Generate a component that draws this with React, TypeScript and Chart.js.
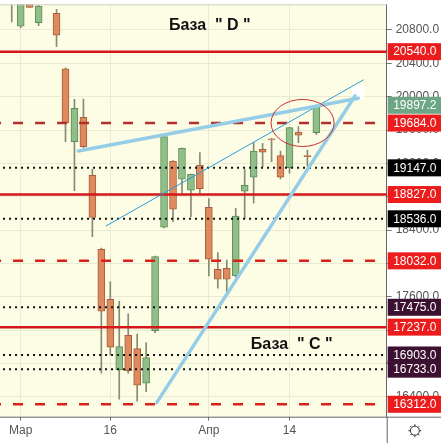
import React, { useEffect, useRef } from "react";
import { Chart, registerables } from "chart.js";
Chart.register(...registerables);

// Trading-session slots (slot 4 has no visible candle)
const slots = [0, 1, 2, 3, 5, 6, 7, 8, 9, 10, 11, 12, 13, 14, 15, 16, 17, 18, 19, 20, 21, 22, 23, 24, 25, 26, 27, 28, 29, 30, 31, 32, 33, 34];
const opens = [21180, 20845, 21140, 20888, 21000, 20333, 19461, 19753, 19058, 18171, 17571, 16724, 17140, 16979, 16564, 17195, 18435, 19229, 19010, 18878, 19178, 18674, 17931, 17943, 17851, 18866, 19034, 19370, 19495, 19293, 19149, 19577, 19295, 19569];
const highs = [21300, 21200, 21160, 21095, 21048, 20345, 19969, 19973, 19130, 18186, 17779, 17547, 17395, 17155, 17051, 18090, 19529, 19235, 19385, 19073, 19329, 18777, 18130, 18042, 18662, 19128, 19449, 19442, 19500, 19349, 19634, 19641, 19361, 19900];
const lows = [20896, 20824, 21072, 20852, 20600, 19461, 18873, 19385, 18322, 16684, 16904, 16372, 16684, 16348, 16463, 17170, 18426, 18502, 18842, 18562, 18842, 17851, 17703, 17647, 17835, 18542, 18722, 19161, 19221, 19014, 19082, 19449, 19170, 19545];
const closes = [21250, 21150, 21072, 21088, 20737, 19689, 19861, 19401, 18552, 17427, 16996, 17003, 16715, 16540, 16871, 18082, 19521, 18650, 19382, 19070, 18897, 18051, 17811, 17811, 18570, 18938, 19349, 19334, 19482, 19034, 19629, 19538, 19282, 19897];

const xTickSlots = [1, 11, 22, 31];
const xTickLabels = ["Мар", "16", "Апр", "14"];
const yTicks = [16400, 16800, 17200, 17600, 18000, 18400, 18800, 19200, 19600, 20000, 20400, 20800];

const levelValues = [20540, 19684, 19147, 18827, 18536, 18032, 17475, 17237, 16903, 16733, 16312];
const levelKinds = ["solid", "dashedDark", "dotted", "solid", "dotted", "dashed", "dotted", "solid", "dotted", "dotted", "dashed"];
const levelLabelKinds = ["red", "red", "black", "red", "black", "red", "maroon", "red", "maroon", "maroon", "red"];
const lastPrice = 19897.2;

// trend lines: [slot, price] pairs
const trendUpper = [[7.43, 19349], [38.68, 19981]];
const trendThin = [[10.52, 18450], [39.24, 20201]];
const trendSteep = [[16.18, 16332], [38.31, 20009]];

const noteTexts = ['База  " D "', 'База  " C "'];
const noteSlots = [22.1, 31.25];
const notePrices = [20854, 17029];

const ellipseSlot = 32.46;
const ellipsePrice = 19685;
const ellipseSlotRadius = 3.52;
const ellipsePriceRadius = 282;

const X_MIN = -1.31, X_MAX = 41.85, Y_MIN = 16163, Y_MAX = 21108;

const LINE_STYLE: Record<string, { color: string; width: number; dash: number[] }> = {
  solid: { color: "#d3171a", width: 2.5, dash: [] },
  dashedDark: { color: "#b2302b", width: 2.5, dash: [10, 12] },
  dashed: { color: "#d9201c", width: 2.5, dash: [10, 12] },
  dotted: { color: "#111111", width: 2, dash: [2, 4] },
};
const LABEL_BG: Record<string, string> = { red: "#ec1c1c", black: "#000000", maroon: "#3c1030" };

export default function App() {
  const ref = useRef<HTMLCanvasElement>(null);
  useEffect(() => {
    const canvas = ref.current!;
    const up = slots.map((_, i) => closes[i] >= opens[i]);
    const bodies = slots.map((s, i) => ({ x: s, y: [opens[i], closes[i]] }));
    const wicks = slots.map((s, i) => ({ x: s, y: [lows[i], highs[i]] }));

    const levelSets = levelValues.map((v, i) => {
      const st = LINE_STYLE[levelKinds[i]];
      return {
        type: "line",
        data: [{ x: X_MIN - 1, y: v }, { x: X_MAX + 1, y: v }],
        borderColor: st.color,
        borderWidth: st.width,
        borderDash: st.dash,
        pointRadius: 0,
        fill: false,
        order: 1,
      };
    });
    const trendSet = (pts: number[][], color: string, w: number) => ({
      type: "line",
      data: pts.map((p) => ({ x: p[0], y: p[1] })),
      borderColor: color,
      borderWidth: w,
      pointRadius: 0,
      fill: false,
      order: 0,
      borderCapStyle: "round",
    });

    const decor = {
      id: "decor",
      beforeDraw(chart: any) {
        const { ctx, chartArea: ca, width, height } = chart;
        ctx.save();
        ctx.fillStyle = "#ffffff";
        ctx.fillRect(0, 0, width, height);
        ctx.fillStyle = "#fdfde6";
        ctx.fillRect(ca.left, ca.top, ca.right - ca.left, ca.bottom - ca.top);
        ctx.restore();
      },
      beforeDatasetsDraw(chart: any) {
        const { ctx } = chart;
        const xs = chart.scales.x, ys = chart.scales.y;
        ctx.save();
        ctx.fillStyle = "#ffffff";
        const px = xs.getPixelForValue(38.65), py = ys.getPixelForValue(20045);
        ctx.fillRect(px - 6, py - 7, 12, 14);
        ctx.restore();
      },
      afterDatasetsDraw(chart: any) {
        const { ctx, chartArea: ca } = chart;
        const xs = chart.scales.x, ys = chart.scales.y;
        ctx.save();
        ctx.beginPath();
        ctx.rect(ca.left, ca.top, ca.right - ca.left, ca.bottom - ca.top);
        ctx.clip();
        const cx = xs.getPixelForValue(ellipseSlot), cy = ys.getPixelForValue(ellipsePrice);
        const rx = Math.abs(xs.getPixelForValue(ellipseSlot + ellipseSlotRadius) - cx);
        const ry = Math.abs(ys.getPixelForValue(ellipsePrice + ellipsePriceRadius) - cy);
        ctx.strokeStyle = "#c8302e";
        ctx.lineWidth = 1;
        ctx.beginPath();
        ctx.ellipse(cx, cy, rx, ry, 0, 0, Math.PI * 2);
        ctx.stroke();
        ctx.fillStyle = "#111111";
        ctx.font = "bold 16px 'Liberation Sans', Arial, sans-serif";
        ctx.textAlign = "center";
        ctx.textBaseline = "middle";
        noteTexts.forEach((t, i) => {
          ctx.fillText(t, xs.getPixelForValue(noteSlots[i]), ys.getPixelForValue(notePrices[i]));
        });
        ctx.restore();
      },
      afterDraw(chart: any) {
        const { ctx, chartArea: ca, width, height } = chart;
        const ys = chart.scales.y;
        ctx.save();
        ctx.strokeStyle = "#d0d0c8";
        ctx.lineWidth = 1;
        ctx.beginPath();
        ctx.moveTo(ca.left, ca.top + 0.5);
        ctx.lineTo(ca.right, ca.top + 0.5);
        ctx.stroke();
        ctx.strokeStyle = "#666666";
        ctx.beginPath();
        ctx.moveTo(ca.right + 0.5, ca.bottom);
        ctx.lineTo(ca.right + 0.5, height);
        ctx.stroke();
        ctx.beginPath();
        ctx.moveTo(ca.left, ca.bottom + 0.5);
        ctx.lineTo(width, ca.bottom + 0.5);
        ctx.stroke();
        ctx.font = "12px 'Liberation Sans', Arial, sans-serif";
        ctx.textAlign = "center";
        ctx.textBaseline = "middle";
        const boxW = width - ca.right;
        const drawBox = (v: number, bg: string) => {
          const y = ys.getPixelForValue(v);
          ctx.fillStyle = bg;
          ctx.fillRect(ca.right + 1, y - 8.5, boxW, 17);
          ctx.fillStyle = "#ffffff";
          ctx.fillText(v.toFixed(1), ca.right + 1 + boxW / 2, y + 0.5);
        };
        levelValues.forEach((v, i) => drawBox(v, LABEL_BG[levelLabelKinds[i]]));
        drawBox(lastPrice, "#6ca684");
        const gx = ca.right + (width - ca.right) / 2 + 1, gy = ca.bottom + 14;
        ctx.strokeStyle = "#333333";
        ctx.lineWidth = 1;
        ctx.beginPath();
        ctx.arc(gx, gy, 4.5, 0, Math.PI * 2);
        ctx.stroke();
        for (let k = 0; k < 8; k++) {
          const a = (k * Math.PI) / 4;
          ctx.beginPath();
          ctx.moveTo(gx + Math.cos(a) * 4.5, gy + Math.sin(a) * 4.5);
          ctx.lineTo(gx + Math.cos(a) * 6.5, gy + Math.sin(a) * 6.5);
          ctx.stroke();
        }
        ctx.restore();
      },
    };

    const chart = new Chart(canvas, {
      type: "bar",
      data: {
        datasets: [
          {
            type: "bar",
            data: wicks as any,
            backgroundColor: "#858c70",
            borderWidth: 0,
            barThickness: 1,
            grouped: false,
            order: 3,
          } as any,
          {
            type: "bar",
            data: bodies as any,
            backgroundColor: up.map((u) => (u ? "#8fbe88" : "#df8a5e")),
            borderColor: up.map((u) => (u ? "#5e8c58" : "#a65e3c")),
            borderWidth: 1,
            borderSkipped: false,
            barThickness: 7,
            grouped: false,
            order: 2,
          } as any,
          ...(levelSets as any[]),
          trendSet(trendUpper, "#96cde6", 3.5) as any,
          trendSet(trendSteep, "#96cde6", 3.5) as any,
          trendSet(trendThin, "#2a9ed8", 1) as any,
        ],
      },
      options: {
        responsive: false,
        animation: false,
        events: [],
        layout: { padding: { top: 4.3, left: 0, right: 0, bottom: 0 } },
        plugins: { legend: { display: false }, tooltip: { enabled: false } },
        scales: {
          x: {
            type: "linear",
            min: X_MIN,
            max: X_MAX,
            offset: false,
            afterBuildTicks: (s: any) => {
              s.ticks = xTickSlots.map((v) => ({ value: v }));
            },
            afterFit: (s: any) => {
              s.height = 26.3;
              s.paddingLeft = 0;
              s.paddingRight = 0;
            },
            grid: { color: "#ebebd3", tickColor: "#777777", tickLength: 4, offset: false },
            border: { display: false },
            ticks: {
              autoSkip: false,
              maxRotation: 0,
              padding: 3,
              color: "#555555",
              font: { family: "'Liberation Sans', Arial, sans-serif", size: 12 },
              callback: (v: any) => {
                const k = xTickSlots.indexOf(Number(v));
                return k >= 0 ? xTickLabels[k] : "";
              },
            },
          },
          y: {
            type: "linear",
            position: "right",
            min: Y_MIN,
            max: Y_MAX,
            afterBuildTicks: (s: any) => {
              s.ticks = yTicks.map((v) => ({ value: v }));
            },
            afterFit: (s: any) => {
              s.width = 54.3;
              s.paddingTop = 0;
              s.paddingBottom = 0;
            },
            grid: { color: "#ebebd3", tickColor: "#777777", tickLength: 5 },
            border: { display: true, color: "#666666", width: 1 },
            ticks: {
              padding: 4,
              color: "#555555",
              font: { family: "'Liberation Sans', Arial, sans-serif", size: 12 },
              callback: (v: any) => Number(v).toFixed(1),
            },
          },
        },
      } as any,
      plugins: [decor],
    });
    return () => chart.destroy();
  }, []);

  return (
    <div style={{ position: "fixed", left: 0, top: 0, width: 441, height: 443 }}>
      <canvas ref={ref} width={441} height={443} style={{ display: "block" }} />
    </div>
  );
}
